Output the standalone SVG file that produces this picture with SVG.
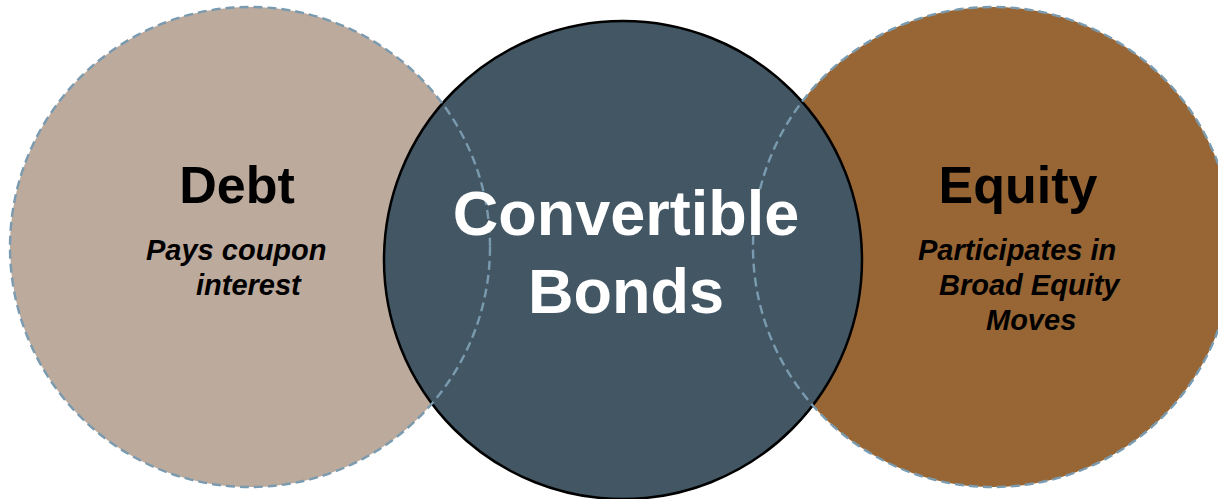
<svg xmlns="http://www.w3.org/2000/svg" width="1218" height="499" viewBox="0 0 1218 499">
  <style>
    .title { font-family: "Liberation Sans", Arial, sans-serif; font-weight: bold; font-size: 52px; fill: #000; text-anchor: middle; }
    .center { font-family: "Liberation Sans", Arial, sans-serif; font-weight: bold; font-size: 63px; fill: #fff; text-anchor: middle; }
    .sub { font-family: "Liberation Sans", Arial, sans-serif; font-weight: bold; font-style: italic; font-size: 29px; fill: #000; }
    .dash { fill: none; stroke: #7A9BAF; stroke-width: 2.4; stroke-dasharray: 9 5; }
  </style>
  <rect width="1218" height="499" fill="#ffffff"/>
  <g id="debt">
    <circle cx="250" cy="247" r="240" fill="#BCAA9D"/>
  </g>
  <g id="equity">
    <circle cx="993" cy="247" r="240" fill="#986634"/>
  </g>
  <g id="convertible-bonds">
    <circle cx="623" cy="260" r="239" fill="#435663" stroke="#000" stroke-width="2.5"/>
  </g>
  <g id="outlines">
    <circle class="dash" cx="250" cy="247" r="240"/>
    <circle class="dash" cx="993" cy="247" r="240"/>
  </g>
  <g id="labels">
    <text class="title" x="237" y="203">Debt</text>
    <text class="sub" x="146" y="260">Pays coupon</text>
    <text class="sub" x="196" y="295">interest</text>
    <text class="center" x="626" y="235">Convertible</text>
    <text class="center" x="626" y="313">Bonds</text>
    <text class="title" x="1018" y="203">Equity</text>
    <text class="sub" x="918" y="260">Participates in</text>
    <text class="sub" x="939" y="295">Broad Equity</text>
    <text class="sub" x="986" y="330">Moves</text>
  </g>
</svg>
